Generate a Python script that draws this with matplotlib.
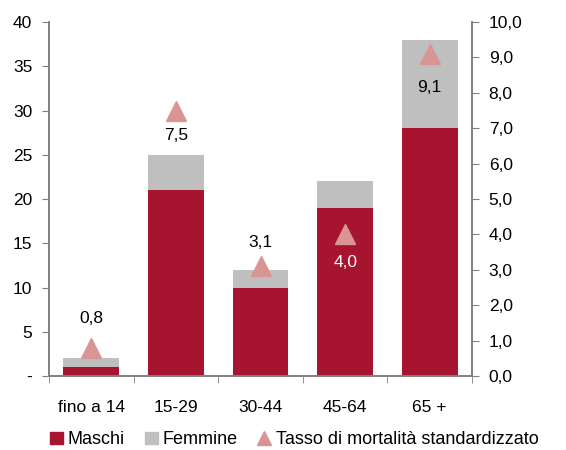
import matplotlib.pyplot as plt
from matplotlib.lines import Line2D
from matplotlib.patches import Patch

plt.rcParams['font.family'] = ['Liberation Sans', 'DejaVu Sans']

categorie = ["fino a 14", "15-29", "30-44", "45-64", "65 +"]
maschi = [1, 21, 10, 19, 28]
femmine = [1, 4, 2, 3, 10]
tasso = [0.8, 7.5, 3.1, 4.0, 9.1]
etichette_tasso = ["0,8", "7,5", "3,1", "4,0", "9,1"]

rosso = "#A6142F"
grigio = "#BFBFBF"
rosa = "#D99594"
assi = "#808080"

fig = plt.figure(figsize=(5.66, 4.5), dpi=100)
ax = fig.add_axes([0.0866, 0.1644, 0.7474, 0.7866])
ax2 = ax.twinx()

x = list(range(len(categorie)))
ax.bar(x, maschi, width=0.66, color=rosso, zorder=2)
ax.bar(x, femmine, width=0.66, bottom=maschi, color=grigio, zorder=2)

ax.set_xlim(-0.5, 4.5)
ax.set_ylim(0, 40)
ax.set_yticks(range(0, 41, 5))
ax.set_yticklabels(["-"] + [str(v) for v in range(5, 41, 5)])
ax.set_xticks(x)
ax.set_xticklabels(categorie)
ax.set_xticks([i + 0.5 for i in range(-1, 5)], minor=True)
ax.tick_params(axis='x', which='major', length=0, pad=17, labelsize=12.5)
ax.tick_params(axis='x', which='minor', length=5, color=assi, direction='out')
ax.tick_params(axis='y', length=5, color=assi, labelsize=12.5, pad=7)

ax2.set_ylim(0, 10)
ax2.set_yticks(range(0, 11))
ax2.set_yticklabels([f"{v},0" for v in range(0, 11)])
ax2.tick_params(axis='y', length=5, color=assi, labelsize=12.5, pad=7)
ax2.plot(x, tasso, linestyle='none', marker='^', markersize=15, color=rosa, zorder=3)

# posizione delle etichette: sopra o sotto il triangolo (in punti)
offset = [21, -18, 17, -20, -24]
colori_testo = ["black", "black", "black", "white", "black"]
for i, v in enumerate(tasso):
    ax2.annotate(etichette_tasso[i], (i, v), xytext=(0, offset[i]), textcoords='offset points',
                 ha='center', va='center', fontsize=12.5, color=colori_testo[i])

for a in (ax, ax2):
    a.spines['top'].set_visible(False)
    for s in ('left', 'right', 'bottom'):
        a.spines[s].set_color(assi)
        a.spines[s].set_linewidth(1.2)

handles = [Patch(color=rosso, label="Maschi"), Patch(color=grigio, label="Femmine"),
           Line2D([], [], linestyle='none', marker='^', markersize=10, color=rosa,
                  label="Tasso di mortalità standardizzato")]
fig.legend(handles=handles, loc='lower center', bbox_to_anchor=(0.52, -0.032), ncol=3,
           frameon=False, fontsize=13, handlelength=0.7, handleheight=0.7,
           handletextpad=0.3, columnspacing=1.1)

fig.savefig("out.png", dpi=100)
